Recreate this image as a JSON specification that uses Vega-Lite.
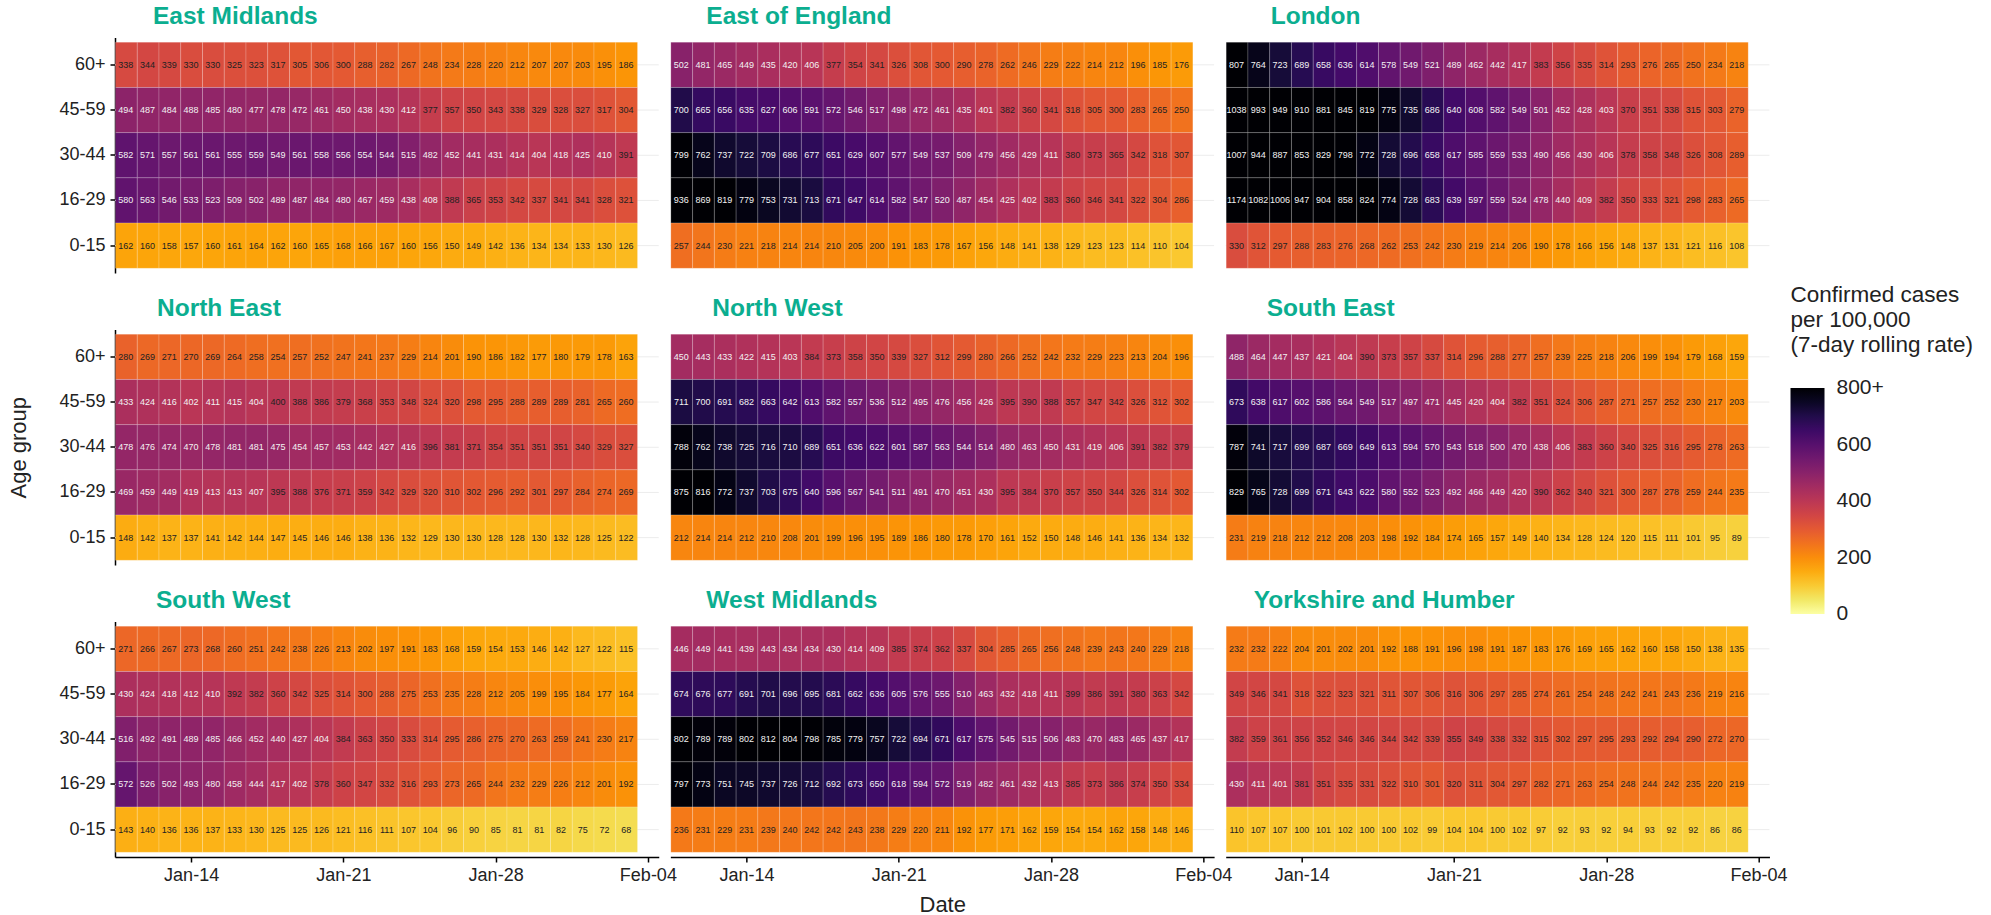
{"$schema":"https://vega.github.io/schema/vega-lite/v6.json","background":"white","autosize":{"type":"pad"},"padding":{"left":7,"top":3.5,"right":0,"bottom":0},"columns":3,"bounds":"flush","spacing":{"column":11.35,"row":56},"resolve":{"scale":{"color":"shared"}},"config":{"font":"Liberation Sans","view":{"stroke":null},"title":{"anchor":"start","frame":"group","fontSize":24.5,"fontWeight":"bold","color":"#0BAE90","offset":8},"axis":{"domainColor":"black","domainWidth":1.5,"tickColor":"black","tickWidth":1.5,"tickSize":5,"labelColor":"#222","labelFontSize":18,"titleFontSize":22,"titleFontWeight":"normal","titleColor":"#222","grid":false},"axisX":{"labelPadding":4,"titlePadding":10},"axisY":{"labelPadding":5,"titlePadding":28},"rect":{"stroke":"white","strokeWidth":0.6,"strokeOpacity":0.3},"text":{"fontSize":9},"rule":{"color":"#ececec"}},"datasets":{"ages":[{"age":"60+"},{"age":"45-59"},{"age":"30-44"},{"age":"16-29"},{"age":"0-15"}],
"East Midlands":[{"age":"60+","date":"2021-01-11","rate":338},{"age":"60+","date":"2021-01-12","rate":344},{"age":"60+","date":"2021-01-13","rate":339},{"age":"60+","date":"2021-01-14","rate":330},{"age":"60+","date":"2021-01-15","rate":330},{"age":"60+","date":"2021-01-16","rate":325},{"age":"60+","date":"2021-01-17","rate":323},{"age":"60+","date":"2021-01-18","rate":317},{"age":"60+","date":"2021-01-19","rate":305},{"age":"60+","date":"2021-01-20","rate":306},{"age":"60+","date":"2021-01-21","rate":300},{"age":"60+","date":"2021-01-22","rate":288},{"age":"60+","date":"2021-01-23","rate":282},{"age":"60+","date":"2021-01-24","rate":267},{"age":"60+","date":"2021-01-25","rate":248},{"age":"60+","date":"2021-01-26","rate":234},{"age":"60+","date":"2021-01-27","rate":228},{"age":"60+","date":"2021-01-28","rate":220},{"age":"60+","date":"2021-01-29","rate":212},{"age":"60+","date":"2021-01-30","rate":207},{"age":"60+","date":"2021-01-31","rate":207},{"age":"60+","date":"2021-02-01","rate":203},{"age":"60+","date":"2021-02-02","rate":195},{"age":"60+","date":"2021-02-03","rate":186},
{"age":"45-59","date":"2021-01-11","rate":494},{"age":"45-59","date":"2021-01-12","rate":487},{"age":"45-59","date":"2021-01-13","rate":484},{"age":"45-59","date":"2021-01-14","rate":488},{"age":"45-59","date":"2021-01-15","rate":485},{"age":"45-59","date":"2021-01-16","rate":480},{"age":"45-59","date":"2021-01-17","rate":477},{"age":"45-59","date":"2021-01-18","rate":478},{"age":"45-59","date":"2021-01-19","rate":472},{"age":"45-59","date":"2021-01-20","rate":461},{"age":"45-59","date":"2021-01-21","rate":450},{"age":"45-59","date":"2021-01-22","rate":438},{"age":"45-59","date":"2021-01-23","rate":430},{"age":"45-59","date":"2021-01-24","rate":412},{"age":"45-59","date":"2021-01-25","rate":377},{"age":"45-59","date":"2021-01-26","rate":357},{"age":"45-59","date":"2021-01-27","rate":350},{"age":"45-59","date":"2021-01-28","rate":343},{"age":"45-59","date":"2021-01-29","rate":338},{"age":"45-59","date":"2021-01-30","rate":329},{"age":"45-59","date":"2021-01-31","rate":328},{"age":"45-59","date":"2021-02-01","rate":327},{"age":"45-59","date":"2021-02-02","rate":317},{"age":"45-59","date":"2021-02-03","rate":304},
{"age":"30-44","date":"2021-01-11","rate":582},{"age":"30-44","date":"2021-01-12","rate":571},{"age":"30-44","date":"2021-01-13","rate":557},{"age":"30-44","date":"2021-01-14","rate":561},{"age":"30-44","date":"2021-01-15","rate":561},{"age":"30-44","date":"2021-01-16","rate":555},{"age":"30-44","date":"2021-01-17","rate":559},{"age":"30-44","date":"2021-01-18","rate":549},{"age":"30-44","date":"2021-01-19","rate":561},{"age":"30-44","date":"2021-01-20","rate":558},{"age":"30-44","date":"2021-01-21","rate":556},{"age":"30-44","date":"2021-01-22","rate":554},{"age":"30-44","date":"2021-01-23","rate":544},{"age":"30-44","date":"2021-01-24","rate":515},{"age":"30-44","date":"2021-01-25","rate":482},{"age":"30-44","date":"2021-01-26","rate":452},{"age":"30-44","date":"2021-01-27","rate":441},{"age":"30-44","date":"2021-01-28","rate":431},{"age":"30-44","date":"2021-01-29","rate":414},{"age":"30-44","date":"2021-01-30","rate":404},{"age":"30-44","date":"2021-01-31","rate":418},{"age":"30-44","date":"2021-02-01","rate":425},{"age":"30-44","date":"2021-02-02","rate":410},{"age":"30-44","date":"2021-02-03","rate":391},
{"age":"16-29","date":"2021-01-11","rate":580},{"age":"16-29","date":"2021-01-12","rate":563},{"age":"16-29","date":"2021-01-13","rate":546},{"age":"16-29","date":"2021-01-14","rate":533},{"age":"16-29","date":"2021-01-15","rate":523},{"age":"16-29","date":"2021-01-16","rate":509},{"age":"16-29","date":"2021-01-17","rate":502},{"age":"16-29","date":"2021-01-18","rate":489},{"age":"16-29","date":"2021-01-19","rate":487},{"age":"16-29","date":"2021-01-20","rate":484},{"age":"16-29","date":"2021-01-21","rate":480},{"age":"16-29","date":"2021-01-22","rate":467},{"age":"16-29","date":"2021-01-23","rate":459},{"age":"16-29","date":"2021-01-24","rate":438},{"age":"16-29","date":"2021-01-25","rate":408},{"age":"16-29","date":"2021-01-26","rate":388},{"age":"16-29","date":"2021-01-27","rate":365},{"age":"16-29","date":"2021-01-28","rate":353},{"age":"16-29","date":"2021-01-29","rate":342},{"age":"16-29","date":"2021-01-30","rate":337},{"age":"16-29","date":"2021-01-31","rate":341},{"age":"16-29","date":"2021-02-01","rate":341},{"age":"16-29","date":"2021-02-02","rate":328},{"age":"16-29","date":"2021-02-03","rate":321},
{"age":"0-15","date":"2021-01-11","rate":162},{"age":"0-15","date":"2021-01-12","rate":160},{"age":"0-15","date":"2021-01-13","rate":158},{"age":"0-15","date":"2021-01-14","rate":157},{"age":"0-15","date":"2021-01-15","rate":160},{"age":"0-15","date":"2021-01-16","rate":161},{"age":"0-15","date":"2021-01-17","rate":164},{"age":"0-15","date":"2021-01-18","rate":162},{"age":"0-15","date":"2021-01-19","rate":160},{"age":"0-15","date":"2021-01-20","rate":165},{"age":"0-15","date":"2021-01-21","rate":168},{"age":"0-15","date":"2021-01-22","rate":166},{"age":"0-15","date":"2021-01-23","rate":167},{"age":"0-15","date":"2021-01-24","rate":160},{"age":"0-15","date":"2021-01-25","rate":156},{"age":"0-15","date":"2021-01-26","rate":150},{"age":"0-15","date":"2021-01-27","rate":149},{"age":"0-15","date":"2021-01-28","rate":142},{"age":"0-15","date":"2021-01-29","rate":136},{"age":"0-15","date":"2021-01-30","rate":134},{"age":"0-15","date":"2021-01-31","rate":134},{"age":"0-15","date":"2021-02-01","rate":133},{"age":"0-15","date":"2021-02-02","rate":130},{"age":"0-15","date":"2021-02-03","rate":126}],
"East of England":[{"age":"60+","date":"2021-01-11","rate":502},{"age":"60+","date":"2021-01-12","rate":481},{"age":"60+","date":"2021-01-13","rate":465},{"age":"60+","date":"2021-01-14","rate":449},{"age":"60+","date":"2021-01-15","rate":435},{"age":"60+","date":"2021-01-16","rate":420},{"age":"60+","date":"2021-01-17","rate":406},{"age":"60+","date":"2021-01-18","rate":377},{"age":"60+","date":"2021-01-19","rate":354},{"age":"60+","date":"2021-01-20","rate":341},{"age":"60+","date":"2021-01-21","rate":326},{"age":"60+","date":"2021-01-22","rate":308},{"age":"60+","date":"2021-01-23","rate":300},{"age":"60+","date":"2021-01-24","rate":290},{"age":"60+","date":"2021-01-25","rate":278},{"age":"60+","date":"2021-01-26","rate":262},{"age":"60+","date":"2021-01-27","rate":246},{"age":"60+","date":"2021-01-28","rate":229},{"age":"60+","date":"2021-01-29","rate":222},{"age":"60+","date":"2021-01-30","rate":214},{"age":"60+","date":"2021-01-31","rate":212},{"age":"60+","date":"2021-02-01","rate":196},{"age":"60+","date":"2021-02-02","rate":185},{"age":"60+","date":"2021-02-03","rate":176},
{"age":"45-59","date":"2021-01-11","rate":700},{"age":"45-59","date":"2021-01-12","rate":665},{"age":"45-59","date":"2021-01-13","rate":656},{"age":"45-59","date":"2021-01-14","rate":635},{"age":"45-59","date":"2021-01-15","rate":627},{"age":"45-59","date":"2021-01-16","rate":606},{"age":"45-59","date":"2021-01-17","rate":591},{"age":"45-59","date":"2021-01-18","rate":572},{"age":"45-59","date":"2021-01-19","rate":546},{"age":"45-59","date":"2021-01-20","rate":517},{"age":"45-59","date":"2021-01-21","rate":498},{"age":"45-59","date":"2021-01-22","rate":472},{"age":"45-59","date":"2021-01-23","rate":461},{"age":"45-59","date":"2021-01-24","rate":435},{"age":"45-59","date":"2021-01-25","rate":401},{"age":"45-59","date":"2021-01-26","rate":382},{"age":"45-59","date":"2021-01-27","rate":360},{"age":"45-59","date":"2021-01-28","rate":341},{"age":"45-59","date":"2021-01-29","rate":318},{"age":"45-59","date":"2021-01-30","rate":305},{"age":"45-59","date":"2021-01-31","rate":300},{"age":"45-59","date":"2021-02-01","rate":283},{"age":"45-59","date":"2021-02-02","rate":265},{"age":"45-59","date":"2021-02-03","rate":250},
{"age":"30-44","date":"2021-01-11","rate":799},{"age":"30-44","date":"2021-01-12","rate":762},{"age":"30-44","date":"2021-01-13","rate":737},{"age":"30-44","date":"2021-01-14","rate":722},{"age":"30-44","date":"2021-01-15","rate":709},{"age":"30-44","date":"2021-01-16","rate":686},{"age":"30-44","date":"2021-01-17","rate":677},{"age":"30-44","date":"2021-01-18","rate":651},{"age":"30-44","date":"2021-01-19","rate":629},{"age":"30-44","date":"2021-01-20","rate":607},{"age":"30-44","date":"2021-01-21","rate":577},{"age":"30-44","date":"2021-01-22","rate":549},{"age":"30-44","date":"2021-01-23","rate":537},{"age":"30-44","date":"2021-01-24","rate":509},{"age":"30-44","date":"2021-01-25","rate":479},{"age":"30-44","date":"2021-01-26","rate":456},{"age":"30-44","date":"2021-01-27","rate":429},{"age":"30-44","date":"2021-01-28","rate":411},{"age":"30-44","date":"2021-01-29","rate":380},{"age":"30-44","date":"2021-01-30","rate":373},{"age":"30-44","date":"2021-01-31","rate":365},{"age":"30-44","date":"2021-02-01","rate":342},{"age":"30-44","date":"2021-02-02","rate":318},{"age":"30-44","date":"2021-02-03","rate":307},
{"age":"16-29","date":"2021-01-11","rate":936},{"age":"16-29","date":"2021-01-12","rate":869},{"age":"16-29","date":"2021-01-13","rate":819},{"age":"16-29","date":"2021-01-14","rate":779},{"age":"16-29","date":"2021-01-15","rate":753},{"age":"16-29","date":"2021-01-16","rate":731},{"age":"16-29","date":"2021-01-17","rate":713},{"age":"16-29","date":"2021-01-18","rate":671},{"age":"16-29","date":"2021-01-19","rate":647},{"age":"16-29","date":"2021-01-20","rate":614},{"age":"16-29","date":"2021-01-21","rate":582},{"age":"16-29","date":"2021-01-22","rate":547},{"age":"16-29","date":"2021-01-23","rate":520},{"age":"16-29","date":"2021-01-24","rate":487},{"age":"16-29","date":"2021-01-25","rate":454},{"age":"16-29","date":"2021-01-26","rate":425},{"age":"16-29","date":"2021-01-27","rate":402},{"age":"16-29","date":"2021-01-28","rate":383},{"age":"16-29","date":"2021-01-29","rate":360},{"age":"16-29","date":"2021-01-30","rate":346},{"age":"16-29","date":"2021-01-31","rate":341},{"age":"16-29","date":"2021-02-01","rate":322},{"age":"16-29","date":"2021-02-02","rate":304},{"age":"16-29","date":"2021-02-03","rate":286},
{"age":"0-15","date":"2021-01-11","rate":257},{"age":"0-15","date":"2021-01-12","rate":244},{"age":"0-15","date":"2021-01-13","rate":230},{"age":"0-15","date":"2021-01-14","rate":221},{"age":"0-15","date":"2021-01-15","rate":218},{"age":"0-15","date":"2021-01-16","rate":214},{"age":"0-15","date":"2021-01-17","rate":214},{"age":"0-15","date":"2021-01-18","rate":210},{"age":"0-15","date":"2021-01-19","rate":205},{"age":"0-15","date":"2021-01-20","rate":200},{"age":"0-15","date":"2021-01-21","rate":191},{"age":"0-15","date":"2021-01-22","rate":183},{"age":"0-15","date":"2021-01-23","rate":178},{"age":"0-15","date":"2021-01-24","rate":167},{"age":"0-15","date":"2021-01-25","rate":156},{"age":"0-15","date":"2021-01-26","rate":148},{"age":"0-15","date":"2021-01-27","rate":141},{"age":"0-15","date":"2021-01-28","rate":138},{"age":"0-15","date":"2021-01-29","rate":129},{"age":"0-15","date":"2021-01-30","rate":123},{"age":"0-15","date":"2021-01-31","rate":123},{"age":"0-15","date":"2021-02-01","rate":114},{"age":"0-15","date":"2021-02-02","rate":110},{"age":"0-15","date":"2021-02-03","rate":104}],
"London":[{"age":"60+","date":"2021-01-11","rate":807},{"age":"60+","date":"2021-01-12","rate":764},{"age":"60+","date":"2021-01-13","rate":723},{"age":"60+","date":"2021-01-14","rate":689},{"age":"60+","date":"2021-01-15","rate":658},{"age":"60+","date":"2021-01-16","rate":636},{"age":"60+","date":"2021-01-17","rate":614},{"age":"60+","date":"2021-01-18","rate":578},{"age":"60+","date":"2021-01-19","rate":549},{"age":"60+","date":"2021-01-20","rate":521},{"age":"60+","date":"2021-01-21","rate":489},{"age":"60+","date":"2021-01-22","rate":462},{"age":"60+","date":"2021-01-23","rate":442},{"age":"60+","date":"2021-01-24","rate":417},{"age":"60+","date":"2021-01-25","rate":383},{"age":"60+","date":"2021-01-26","rate":356},{"age":"60+","date":"2021-01-27","rate":335},{"age":"60+","date":"2021-01-28","rate":314},{"age":"60+","date":"2021-01-29","rate":293},{"age":"60+","date":"2021-01-30","rate":276},{"age":"60+","date":"2021-01-31","rate":265},{"age":"60+","date":"2021-02-01","rate":250},{"age":"60+","date":"2021-02-02","rate":234},{"age":"60+","date":"2021-02-03","rate":218},
{"age":"45-59","date":"2021-01-11","rate":1038},{"age":"45-59","date":"2021-01-12","rate":993},{"age":"45-59","date":"2021-01-13","rate":949},{"age":"45-59","date":"2021-01-14","rate":910},{"age":"45-59","date":"2021-01-15","rate":881},{"age":"45-59","date":"2021-01-16","rate":845},{"age":"45-59","date":"2021-01-17","rate":819},{"age":"45-59","date":"2021-01-18","rate":775},{"age":"45-59","date":"2021-01-19","rate":735},{"age":"45-59","date":"2021-01-20","rate":686},{"age":"45-59","date":"2021-01-21","rate":640},{"age":"45-59","date":"2021-01-22","rate":608},{"age":"45-59","date":"2021-01-23","rate":582},{"age":"45-59","date":"2021-01-24","rate":549},{"age":"45-59","date":"2021-01-25","rate":501},{"age":"45-59","date":"2021-01-26","rate":452},{"age":"45-59","date":"2021-01-27","rate":428},{"age":"45-59","date":"2021-01-28","rate":403},{"age":"45-59","date":"2021-01-29","rate":370},{"age":"45-59","date":"2021-01-30","rate":351},{"age":"45-59","date":"2021-01-31","rate":338},{"age":"45-59","date":"2021-02-01","rate":315},{"age":"45-59","date":"2021-02-02","rate":303},{"age":"45-59","date":"2021-02-03","rate":279},
{"age":"30-44","date":"2021-01-11","rate":1007},{"age":"30-44","date":"2021-01-12","rate":944},{"age":"30-44","date":"2021-01-13","rate":887},{"age":"30-44","date":"2021-01-14","rate":853},{"age":"30-44","date":"2021-01-15","rate":829},{"age":"30-44","date":"2021-01-16","rate":798},{"age":"30-44","date":"2021-01-17","rate":772},{"age":"30-44","date":"2021-01-18","rate":728},{"age":"30-44","date":"2021-01-19","rate":696},{"age":"30-44","date":"2021-01-20","rate":658},{"age":"30-44","date":"2021-01-21","rate":617},{"age":"30-44","date":"2021-01-22","rate":585},{"age":"30-44","date":"2021-01-23","rate":559},{"age":"30-44","date":"2021-01-24","rate":533},{"age":"30-44","date":"2021-01-25","rate":490},{"age":"30-44","date":"2021-01-26","rate":456},{"age":"30-44","date":"2021-01-27","rate":430},{"age":"30-44","date":"2021-01-28","rate":406},{"age":"30-44","date":"2021-01-29","rate":378},{"age":"30-44","date":"2021-01-30","rate":358},{"age":"30-44","date":"2021-01-31","rate":348},{"age":"30-44","date":"2021-02-01","rate":326},{"age":"30-44","date":"2021-02-02","rate":308},{"age":"30-44","date":"2021-02-03","rate":289},
{"age":"16-29","date":"2021-01-11","rate":1174},{"age":"16-29","date":"2021-01-12","rate":1082},{"age":"16-29","date":"2021-01-13","rate":1006},{"age":"16-29","date":"2021-01-14","rate":947},{"age":"16-29","date":"2021-01-15","rate":904},{"age":"16-29","date":"2021-01-16","rate":858},{"age":"16-29","date":"2021-01-17","rate":824},{"age":"16-29","date":"2021-01-18","rate":774},{"age":"16-29","date":"2021-01-19","rate":728},{"age":"16-29","date":"2021-01-20","rate":683},{"age":"16-29","date":"2021-01-21","rate":639},{"age":"16-29","date":"2021-01-22","rate":597},{"age":"16-29","date":"2021-01-23","rate":559},{"age":"16-29","date":"2021-01-24","rate":524},{"age":"16-29","date":"2021-01-25","rate":478},{"age":"16-29","date":"2021-01-26","rate":440},{"age":"16-29","date":"2021-01-27","rate":409},{"age":"16-29","date":"2021-01-28","rate":382},{"age":"16-29","date":"2021-01-29","rate":350},{"age":"16-29","date":"2021-01-30","rate":333},{"age":"16-29","date":"2021-01-31","rate":321},{"age":"16-29","date":"2021-02-01","rate":298},{"age":"16-29","date":"2021-02-02","rate":283},{"age":"16-29","date":"2021-02-03","rate":265},
{"age":"0-15","date":"2021-01-11","rate":330},{"age":"0-15","date":"2021-01-12","rate":312},{"age":"0-15","date":"2021-01-13","rate":297},{"age":"0-15","date":"2021-01-14","rate":288},{"age":"0-15","date":"2021-01-15","rate":283},{"age":"0-15","date":"2021-01-16","rate":276},{"age":"0-15","date":"2021-01-17","rate":268},{"age":"0-15","date":"2021-01-18","rate":262},{"age":"0-15","date":"2021-01-19","rate":253},{"age":"0-15","date":"2021-01-20","rate":242},{"age":"0-15","date":"2021-01-21","rate":230},{"age":"0-15","date":"2021-01-22","rate":219},{"age":"0-15","date":"2021-01-23","rate":214},{"age":"0-15","date":"2021-01-24","rate":206},{"age":"0-15","date":"2021-01-25","rate":190},{"age":"0-15","date":"2021-01-26","rate":178},{"age":"0-15","date":"2021-01-27","rate":166},{"age":"0-15","date":"2021-01-28","rate":156},{"age":"0-15","date":"2021-01-29","rate":148},{"age":"0-15","date":"2021-01-30","rate":137},{"age":"0-15","date":"2021-01-31","rate":131},{"age":"0-15","date":"2021-02-01","rate":121},{"age":"0-15","date":"2021-02-02","rate":116},{"age":"0-15","date":"2021-02-03","rate":108}],
"North East":[{"age":"60+","date":"2021-01-11","rate":280},{"age":"60+","date":"2021-01-12","rate":269},{"age":"60+","date":"2021-01-13","rate":271},{"age":"60+","date":"2021-01-14","rate":270},{"age":"60+","date":"2021-01-15","rate":269},{"age":"60+","date":"2021-01-16","rate":264},{"age":"60+","date":"2021-01-17","rate":258},{"age":"60+","date":"2021-01-18","rate":254},{"age":"60+","date":"2021-01-19","rate":257},{"age":"60+","date":"2021-01-20","rate":252},{"age":"60+","date":"2021-01-21","rate":247},{"age":"60+","date":"2021-01-22","rate":241},{"age":"60+","date":"2021-01-23","rate":237},{"age":"60+","date":"2021-01-24","rate":229},{"age":"60+","date":"2021-01-25","rate":214},{"age":"60+","date":"2021-01-26","rate":201},{"age":"60+","date":"2021-01-27","rate":190},{"age":"60+","date":"2021-01-28","rate":186},{"age":"60+","date":"2021-01-29","rate":182},{"age":"60+","date":"2021-01-30","rate":177},{"age":"60+","date":"2021-01-31","rate":180},{"age":"60+","date":"2021-02-01","rate":179},{"age":"60+","date":"2021-02-02","rate":178},{"age":"60+","date":"2021-02-03","rate":163},
{"age":"45-59","date":"2021-01-11","rate":433},{"age":"45-59","date":"2021-01-12","rate":424},{"age":"45-59","date":"2021-01-13","rate":416},{"age":"45-59","date":"2021-01-14","rate":402},{"age":"45-59","date":"2021-01-15","rate":411},{"age":"45-59","date":"2021-01-16","rate":415},{"age":"45-59","date":"2021-01-17","rate":404},{"age":"45-59","date":"2021-01-18","rate":400},{"age":"45-59","date":"2021-01-19","rate":388},{"age":"45-59","date":"2021-01-20","rate":386},{"age":"45-59","date":"2021-01-21","rate":379},{"age":"45-59","date":"2021-01-22","rate":368},{"age":"45-59","date":"2021-01-23","rate":353},{"age":"45-59","date":"2021-01-24","rate":348},{"age":"45-59","date":"2021-01-25","rate":324},{"age":"45-59","date":"2021-01-26","rate":320},{"age":"45-59","date":"2021-01-27","rate":298},{"age":"45-59","date":"2021-01-28","rate":295},{"age":"45-59","date":"2021-01-29","rate":288},{"age":"45-59","date":"2021-01-30","rate":289},{"age":"45-59","date":"2021-01-31","rate":289},{"age":"45-59","date":"2021-02-01","rate":281},{"age":"45-59","date":"2021-02-02","rate":265},{"age":"45-59","date":"2021-02-03","rate":260},
{"age":"30-44","date":"2021-01-11","rate":478},{"age":"30-44","date":"2021-01-12","rate":476},{"age":"30-44","date":"2021-01-13","rate":474},{"age":"30-44","date":"2021-01-14","rate":470},{"age":"30-44","date":"2021-01-15","rate":478},{"age":"30-44","date":"2021-01-16","rate":481},{"age":"30-44","date":"2021-01-17","rate":481},{"age":"30-44","date":"2021-01-18","rate":475},{"age":"30-44","date":"2021-01-19","rate":454},{"age":"30-44","date":"2021-01-20","rate":457},{"age":"30-44","date":"2021-01-21","rate":453},{"age":"30-44","date":"2021-01-22","rate":442},{"age":"30-44","date":"2021-01-23","rate":427},{"age":"30-44","date":"2021-01-24","rate":416},{"age":"30-44","date":"2021-01-25","rate":396},{"age":"30-44","date":"2021-01-26","rate":381},{"age":"30-44","date":"2021-01-27","rate":371},{"age":"30-44","date":"2021-01-28","rate":354},{"age":"30-44","date":"2021-01-29","rate":351},{"age":"30-44","date":"2021-01-30","rate":351},{"age":"30-44","date":"2021-01-31","rate":351},{"age":"30-44","date":"2021-02-01","rate":340},{"age":"30-44","date":"2021-02-02","rate":329},{"age":"30-44","date":"2021-02-03","rate":327},
{"age":"16-29","date":"2021-01-11","rate":469},{"age":"16-29","date":"2021-01-12","rate":459},{"age":"16-29","date":"2021-01-13","rate":449},{"age":"16-29","date":"2021-01-14","rate":419},{"age":"16-29","date":"2021-01-15","rate":413},{"age":"16-29","date":"2021-01-16","rate":413},{"age":"16-29","date":"2021-01-17","rate":407},{"age":"16-29","date":"2021-01-18","rate":395},{"age":"16-29","date":"2021-01-19","rate":388},{"age":"16-29","date":"2021-01-20","rate":376},{"age":"16-29","date":"2021-01-21","rate":371},{"age":"16-29","date":"2021-01-22","rate":359},{"age":"16-29","date":"2021-01-23","rate":342},{"age":"16-29","date":"2021-01-24","rate":329},{"age":"16-29","date":"2021-01-25","rate":320},{"age":"16-29","date":"2021-01-26","rate":310},{"age":"16-29","date":"2021-01-27","rate":302},{"age":"16-29","date":"2021-01-28","rate":296},{"age":"16-29","date":"2021-01-29","rate":292},{"age":"16-29","date":"2021-01-30","rate":301},{"age":"16-29","date":"2021-01-31","rate":297},{"age":"16-29","date":"2021-02-01","rate":284},{"age":"16-29","date":"2021-02-02","rate":274},{"age":"16-29","date":"2021-02-03","rate":269},
{"age":"0-15","date":"2021-01-11","rate":148},{"age":"0-15","date":"2021-01-12","rate":142},{"age":"0-15","date":"2021-01-13","rate":137},{"age":"0-15","date":"2021-01-14","rate":137},{"age":"0-15","date":"2021-01-15","rate":141},{"age":"0-15","date":"2021-01-16","rate":142},{"age":"0-15","date":"2021-01-17","rate":144},{"age":"0-15","date":"2021-01-18","rate":147},{"age":"0-15","date":"2021-01-19","rate":145},{"age":"0-15","date":"2021-01-20","rate":146},{"age":"0-15","date":"2021-01-21","rate":146},{"age":"0-15","date":"2021-01-22","rate":138},{"age":"0-15","date":"2021-01-23","rate":136},{"age":"0-15","date":"2021-01-24","rate":132},{"age":"0-15","date":"2021-01-25","rate":129},{"age":"0-15","date":"2021-01-26","rate":130},{"age":"0-15","date":"2021-01-27","rate":130},{"age":"0-15","date":"2021-01-28","rate":128},{"age":"0-15","date":"2021-01-29","rate":128},{"age":"0-15","date":"2021-01-30","rate":130},{"age":"0-15","date":"2021-01-31","rate":132},{"age":"0-15","date":"2021-02-01","rate":128},{"age":"0-15","date":"2021-02-02","rate":125},{"age":"0-15","date":"2021-02-03","rate":122}],
"North West":[{"age":"60+","date":"2021-01-11","rate":450},{"age":"60+","date":"2021-01-12","rate":443},{"age":"60+","date":"2021-01-13","rate":433},{"age":"60+","date":"2021-01-14","rate":422},{"age":"60+","date":"2021-01-15","rate":415},{"age":"60+","date":"2021-01-16","rate":403},{"age":"60+","date":"2021-01-17","rate":384},{"age":"60+","date":"2021-01-18","rate":373},{"age":"60+","date":"2021-01-19","rate":358},{"age":"60+","date":"2021-01-20","rate":350},{"age":"60+","date":"2021-01-21","rate":339},{"age":"60+","date":"2021-01-22","rate":327},{"age":"60+","date":"2021-01-23","rate":312},{"age":"60+","date":"2021-01-24","rate":299},{"age":"60+","date":"2021-01-25","rate":280},{"age":"60+","date":"2021-01-26","rate":266},{"age":"60+","date":"2021-01-27","rate":252},{"age":"60+","date":"2021-01-28","rate":242},{"age":"60+","date":"2021-01-29","rate":232},{"age":"60+","date":"2021-01-30","rate":229},{"age":"60+","date":"2021-01-31","rate":223},{"age":"60+","date":"2021-02-01","rate":213},{"age":"60+","date":"2021-02-02","rate":204},{"age":"60+","date":"2021-02-03","rate":196},
{"age":"45-59","date":"2021-01-11","rate":711},{"age":"45-59","date":"2021-01-12","rate":700},{"age":"45-59","date":"2021-01-13","rate":691},{"age":"45-59","date":"2021-01-14","rate":682},{"age":"45-59","date":"2021-01-15","rate":663},{"age":"45-59","date":"2021-01-16","rate":642},{"age":"45-59","date":"2021-01-17","rate":613},{"age":"45-59","date":"2021-01-18","rate":582},{"age":"45-59","date":"2021-01-19","rate":557},{"age":"45-59","date":"2021-01-20","rate":536},{"age":"45-59","date":"2021-01-21","rate":512},{"age":"45-59","date":"2021-01-22","rate":495},{"age":"45-59","date":"2021-01-23","rate":476},{"age":"45-59","date":"2021-01-24","rate":456},{"age":"45-59","date":"2021-01-25","rate":426},{"age":"45-59","date":"2021-01-26","rate":395},{"age":"45-59","date":"2021-01-27","rate":390},{"age":"45-59","date":"2021-01-28","rate":388},{"age":"45-59","date":"2021-01-29","rate":357},{"age":"45-59","date":"2021-01-30","rate":347},{"age":"45-59","date":"2021-01-31","rate":342},{"age":"45-59","date":"2021-02-01","rate":326},{"age":"45-59","date":"2021-02-02","rate":312},{"age":"45-59","date":"2021-02-03","rate":302},
{"age":"30-44","date":"2021-01-11","rate":788},{"age":"30-44","date":"2021-01-12","rate":762},{"age":"30-44","date":"2021-01-13","rate":738},{"age":"30-44","date":"2021-01-14","rate":725},{"age":"30-44","date":"2021-01-15","rate":716},{"age":"30-44","date":"2021-01-16","rate":710},{"age":"30-44","date":"2021-01-17","rate":689},{"age":"30-44","date":"2021-01-18","rate":651},{"age":"30-44","date":"2021-01-19","rate":636},{"age":"30-44","date":"2021-01-20","rate":622},{"age":"30-44","date":"2021-01-21","rate":601},{"age":"30-44","date":"2021-01-22","rate":587},{"age":"30-44","date":"2021-01-23","rate":563},{"age":"30-44","date":"2021-01-24","rate":544},{"age":"30-44","date":"2021-01-25","rate":514},{"age":"30-44","date":"2021-01-26","rate":480},{"age":"30-44","date":"2021-01-27","rate":463},{"age":"30-44","date":"2021-01-28","rate":450},{"age":"30-44","date":"2021-01-29","rate":431},{"age":"30-44","date":"2021-01-30","rate":419},{"age":"30-44","date":"2021-01-31","rate":406},{"age":"30-44","date":"2021-02-01","rate":391},{"age":"30-44","date":"2021-02-02","rate":382},{"age":"30-44","date":"2021-02-03","rate":379},
{"age":"16-29","date":"2021-01-11","rate":875},{"age":"16-29","date":"2021-01-12","rate":816},{"age":"16-29","date":"2021-01-13","rate":772},{"age":"16-29","date":"2021-01-14","rate":737},{"age":"16-29","date":"2021-01-15","rate":703},{"age":"16-29","date":"2021-01-16","rate":675},{"age":"16-29","date":"2021-01-17","rate":640},{"age":"16-29","date":"2021-01-18","rate":596},{"age":"16-29","date":"2021-01-19","rate":567},{"age":"16-29","date":"2021-01-20","rate":541},{"age":"16-29","date":"2021-01-21","rate":511},{"age":"16-29","date":"2021-01-22","rate":491},{"age":"16-29","date":"2021-01-23","rate":470},{"age":"16-29","date":"2021-01-24","rate":451},{"age":"16-29","date":"2021-01-25","rate":430},{"age":"16-29","date":"2021-01-26","rate":395},{"age":"16-29","date":"2021-01-27","rate":384},{"age":"16-29","date":"2021-01-28","rate":370},{"age":"16-29","date":"2021-01-29","rate":357},{"age":"16-29","date":"2021-01-30","rate":350},{"age":"16-29","date":"2021-01-31","rate":344},{"age":"16-29","date":"2021-02-01","rate":326},{"age":"16-29","date":"2021-02-02","rate":314},{"age":"16-29","date":"2021-02-03","rate":302},
{"age":"0-15","date":"2021-01-11","rate":212},{"age":"0-15","date":"2021-01-12","rate":214},{"age":"0-15","date":"2021-01-13","rate":214},{"age":"0-15","date":"2021-01-14","rate":212},{"age":"0-15","date":"2021-01-15","rate":210},{"age":"0-15","date":"2021-01-16","rate":208},{"age":"0-15","date":"2021-01-17","rate":201},{"age":"0-15","date":"2021-01-18","rate":199},{"age":"0-15","date":"2021-01-19","rate":196},{"age":"0-15","date":"2021-01-20","rate":195},{"age":"0-15","date":"2021-01-21","rate":189},{"age":"0-15","date":"2021-01-22","rate":186},{"age":"0-15","date":"2021-01-23","rate":180},{"age":"0-15","date":"2021-01-24","rate":178},{"age":"0-15","date":"2021-01-25","rate":170},{"age":"0-15","date":"2021-01-26","rate":161},{"age":"0-15","date":"2021-01-27","rate":152},{"age":"0-15","date":"2021-01-28","rate":150},{"age":"0-15","date":"2021-01-29","rate":148},{"age":"0-15","date":"2021-01-30","rate":146},{"age":"0-15","date":"2021-01-31","rate":141},{"age":"0-15","date":"2021-02-01","rate":136},{"age":"0-15","date":"2021-02-02","rate":134},{"age":"0-15","date":"2021-02-03","rate":132}],
"South East":[{"age":"60+","date":"2021-01-11","rate":488},{"age":"60+","date":"2021-01-12","rate":464},{"age":"60+","date":"2021-01-13","rate":447},{"age":"60+","date":"2021-01-14","rate":437},{"age":"60+","date":"2021-01-15","rate":421},{"age":"60+","date":"2021-01-16","rate":404},{"age":"60+","date":"2021-01-17","rate":390},{"age":"60+","date":"2021-01-18","rate":373},{"age":"60+","date":"2021-01-19","rate":357},{"age":"60+","date":"2021-01-20","rate":337},{"age":"60+","date":"2021-01-21","rate":314},{"age":"60+","date":"2021-01-22","rate":296},{"age":"60+","date":"2021-01-23","rate":288},{"age":"60+","date":"2021-01-24","rate":277},{"age":"60+","date":"2021-01-25","rate":257},{"age":"60+","date":"2021-01-26","rate":239},{"age":"60+","date":"2021-01-27","rate":225},{"age":"60+","date":"2021-01-28","rate":218},{"age":"60+","date":"2021-01-29","rate":206},{"age":"60+","date":"2021-01-30","rate":199},{"age":"60+","date":"2021-01-31","rate":194},{"age":"60+","date":"2021-02-01","rate":179},{"age":"60+","date":"2021-02-02","rate":168},{"age":"60+","date":"2021-02-03","rate":159},
{"age":"45-59","date":"2021-01-11","rate":673},{"age":"45-59","date":"2021-01-12","rate":638},{"age":"45-59","date":"2021-01-13","rate":617},{"age":"45-59","date":"2021-01-14","rate":602},{"age":"45-59","date":"2021-01-15","rate":586},{"age":"45-59","date":"2021-01-16","rate":564},{"age":"45-59","date":"2021-01-17","rate":549},{"age":"45-59","date":"2021-01-18","rate":517},{"age":"45-59","date":"2021-01-19","rate":497},{"age":"45-59","date":"2021-01-20","rate":471},{"age":"45-59","date":"2021-01-21","rate":445},{"age":"45-59","date":"2021-01-22","rate":420},{"age":"45-59","date":"2021-01-23","rate":404},{"age":"45-59","date":"2021-01-24","rate":382},{"age":"45-59","date":"2021-01-25","rate":351},{"age":"45-59","date":"2021-01-26","rate":324},{"age":"45-59","date":"2021-01-27","rate":306},{"age":"45-59","date":"2021-01-28","rate":287},{"age":"45-59","date":"2021-01-29","rate":271},{"age":"45-59","date":"2021-01-30","rate":257},{"age":"45-59","date":"2021-01-31","rate":252},{"age":"45-59","date":"2021-02-01","rate":230},{"age":"45-59","date":"2021-02-02","rate":217},{"age":"45-59","date":"2021-02-03","rate":203},
{"age":"30-44","date":"2021-01-11","rate":787},{"age":"30-44","date":"2021-01-12","rate":741},{"age":"30-44","date":"2021-01-13","rate":717},{"age":"30-44","date":"2021-01-14","rate":699},{"age":"30-44","date":"2021-01-15","rate":687},{"age":"30-44","date":"2021-01-16","rate":669},{"age":"30-44","date":"2021-01-17","rate":649},{"age":"30-44","date":"2021-01-18","rate":613},{"age":"30-44","date":"2021-01-19","rate":594},{"age":"30-44","date":"2021-01-20","rate":570},{"age":"30-44","date":"2021-01-21","rate":543},{"age":"30-44","date":"2021-01-22","rate":518},{"age":"30-44","date":"2021-01-23","rate":500},{"age":"30-44","date":"2021-01-24","rate":470},{"age":"30-44","date":"2021-01-25","rate":438},{"age":"30-44","date":"2021-01-26","rate":406},{"age":"30-44","date":"2021-01-27","rate":383},{"age":"30-44","date":"2021-01-28","rate":360},{"age":"30-44","date":"2021-01-29","rate":340},{"age":"30-44","date":"2021-01-30","rate":325},{"age":"30-44","date":"2021-01-31","rate":316},{"age":"30-44","date":"2021-02-01","rate":295},{"age":"30-44","date":"2021-02-02","rate":278},{"age":"30-44","date":"2021-02-03","rate":263},
{"age":"16-29","date":"2021-01-11","rate":829},{"age":"16-29","date":"2021-01-12","rate":765},{"age":"16-29","date":"2021-01-13","rate":728},{"age":"16-29","date":"2021-01-14","rate":699},{"age":"16-29","date":"2021-01-15","rate":671},{"age":"16-29","date":"2021-01-16","rate":643},{"age":"16-29","date":"2021-01-17","rate":622},{"age":"16-29","date":"2021-01-18","rate":580},{"age":"16-29","date":"2021-01-19","rate":552},{"age":"16-29","date":"2021-01-20","rate":523},{"age":"16-29","date":"2021-01-21","rate":492},{"age":"16-29","date":"2021-01-22","rate":466},{"age":"16-29","date":"2021-01-23","rate":449},{"age":"16-29","date":"2021-01-24","rate":420},{"age":"16-29","date":"2021-01-25","rate":390},{"age":"16-29","date":"2021-01-26","rate":362},{"age":"16-29","date":"2021-01-27","rate":340},{"age":"16-29","date":"2021-01-28","rate":321},{"age":"16-29","date":"2021-01-29","rate":300},{"age":"16-29","date":"2021-01-30","rate":287},{"age":"16-29","date":"2021-01-31","rate":278},{"age":"16-29","date":"2021-02-01","rate":259},{"age":"16-29","date":"2021-02-02","rate":244},{"age":"16-29","date":"2021-02-03","rate":235},
{"age":"0-15","date":"2021-01-11","rate":231},{"age":"0-15","date":"2021-01-12","rate":219},{"age":"0-15","date":"2021-01-13","rate":218},{"age":"0-15","date":"2021-01-14","rate":212},{"age":"0-15","date":"2021-01-15","rate":212},{"age":"0-15","date":"2021-01-16","rate":208},{"age":"0-15","date":"2021-01-17","rate":203},{"age":"0-15","date":"2021-01-18","rate":198},{"age":"0-15","date":"2021-01-19","rate":192},{"age":"0-15","date":"2021-01-20","rate":184},{"age":"0-15","date":"2021-01-21","rate":174},{"age":"0-15","date":"2021-01-22","rate":165},{"age":"0-15","date":"2021-01-23","rate":157},{"age":"0-15","date":"2021-01-24","rate":149},{"age":"0-15","date":"2021-01-25","rate":140},{"age":"0-15","date":"2021-01-26","rate":134},{"age":"0-15","date":"2021-01-27","rate":128},{"age":"0-15","date":"2021-01-28","rate":124},{"age":"0-15","date":"2021-01-29","rate":120},{"age":"0-15","date":"2021-01-30","rate":115},{"age":"0-15","date":"2021-01-31","rate":111},{"age":"0-15","date":"2021-02-01","rate":101},{"age":"0-15","date":"2021-02-02","rate":95},{"age":"0-15","date":"2021-02-03","rate":89}],
"South West":[{"age":"60+","date":"2021-01-11","rate":271},{"age":"60+","date":"2021-01-12","rate":266},{"age":"60+","date":"2021-01-13","rate":267},{"age":"60+","date":"2021-01-14","rate":273},{"age":"60+","date":"2021-01-15","rate":268},{"age":"60+","date":"2021-01-16","rate":260},{"age":"60+","date":"2021-01-17","rate":251},{"age":"60+","date":"2021-01-18","rate":242},{"age":"60+","date":"2021-01-19","rate":238},{"age":"60+","date":"2021-01-20","rate":226},{"age":"60+","date":"2021-01-21","rate":213},{"age":"60+","date":"2021-01-22","rate":202},{"age":"60+","date":"2021-01-23","rate":197},{"age":"60+","date":"2021-01-24","rate":191},{"age":"60+","date":"2021-01-25","rate":183},{"age":"60+","date":"2021-01-26","rate":168},{"age":"60+","date":"2021-01-27","rate":159},{"age":"60+","date":"2021-01-28","rate":154},{"age":"60+","date":"2021-01-29","rate":153},{"age":"60+","date":"2021-01-30","rate":146},{"age":"60+","date":"2021-01-31","rate":142},{"age":"60+","date":"2021-02-01","rate":127},{"age":"60+","date":"2021-02-02","rate":122},{"age":"60+","date":"2021-02-03","rate":115},
{"age":"45-59","date":"2021-01-11","rate":430},{"age":"45-59","date":"2021-01-12","rate":424},{"age":"45-59","date":"2021-01-13","rate":418},{"age":"45-59","date":"2021-01-14","rate":412},{"age":"45-59","date":"2021-01-15","rate":410},{"age":"45-59","date":"2021-01-16","rate":392},{"age":"45-59","date":"2021-01-17","rate":382},{"age":"45-59","date":"2021-01-18","rate":360},{"age":"45-59","date":"2021-01-19","rate":342},{"age":"45-59","date":"2021-01-20","rate":325},{"age":"45-59","date":"2021-01-21","rate":314},{"age":"45-59","date":"2021-01-22","rate":300},{"age":"45-59","date":"2021-01-23","rate":288},{"age":"45-59","date":"2021-01-24","rate":275},{"age":"45-59","date":"2021-01-25","rate":253},{"age":"45-59","date":"2021-01-26","rate":235},{"age":"45-59","date":"2021-01-27","rate":228},{"age":"45-59","date":"2021-01-28","rate":212},{"age":"45-59","date":"2021-01-29","rate":205},{"age":"45-59","date":"2021-01-30","rate":199},{"age":"45-59","date":"2021-01-31","rate":195},{"age":"45-59","date":"2021-02-01","rate":184},{"age":"45-59","date":"2021-02-02","rate":177},{"age":"45-59","date":"2021-02-03","rate":164},
{"age":"30-44","date":"2021-01-11","rate":516},{"age":"30-44","date":"2021-01-12","rate":492},{"age":"30-44","date":"2021-01-13","rate":491},{"age":"30-44","date":"2021-01-14","rate":489},{"age":"30-44","date":"2021-01-15","rate":485},{"age":"30-44","date":"2021-01-16","rate":466},{"age":"30-44","date":"2021-01-17","rate":452},{"age":"30-44","date":"2021-01-18","rate":440},{"age":"30-44","date":"2021-01-19","rate":427},{"age":"30-44","date":"2021-01-20","rate":404},{"age":"30-44","date":"2021-01-21","rate":384},{"age":"30-44","date":"2021-01-22","rate":363},{"age":"30-44","date":"2021-01-23","rate":350},{"age":"30-44","date":"2021-01-24","rate":333},{"age":"30-44","date":"2021-01-25","rate":314},{"age":"30-44","date":"2021-01-26","rate":295},{"age":"30-44","date":"2021-01-27","rate":286},{"age":"30-44","date":"2021-01-28","rate":275},{"age":"30-44","date":"2021-01-29","rate":270},{"age":"30-44","date":"2021-01-30","rate":263},{"age":"30-44","date":"2021-01-31","rate":259},{"age":"30-44","date":"2021-02-01","rate":241},{"age":"30-44","date":"2021-02-02","rate":230},{"age":"30-44","date":"2021-02-03","rate":217},
{"age":"16-29","date":"2021-01-11","rate":572},{"age":"16-29","date":"2021-01-12","rate":526},{"age":"16-29","date":"2021-01-13","rate":502},{"age":"16-29","date":"2021-01-14","rate":493},{"age":"16-29","date":"2021-01-15","rate":480},{"age":"16-29","date":"2021-01-16","rate":458},{"age":"16-29","date":"2021-01-17","rate":444},{"age":"16-29","date":"2021-01-18","rate":417},{"age":"16-29","date":"2021-01-19","rate":402},{"age":"16-29","date":"2021-01-20","rate":378},{"age":"16-29","date":"2021-01-21","rate":360},{"age":"16-29","date":"2021-01-22","rate":347},{"age":"16-29","date":"2021-01-23","rate":332},{"age":"16-29","date":"2021-01-24","rate":316},{"age":"16-29","date":"2021-01-25","rate":293},{"age":"16-29","date":"2021-01-26","rate":273},{"age":"16-29","date":"2021-01-27","rate":265},{"age":"16-29","date":"2021-01-28","rate":244},{"age":"16-29","date":"2021-01-29","rate":232},{"age":"16-29","date":"2021-01-30","rate":229},{"age":"16-29","date":"2021-01-31","rate":226},{"age":"16-29","date":"2021-02-01","rate":212},{"age":"16-29","date":"2021-02-02","rate":201},{"age":"16-29","date":"2021-02-03","rate":192},
{"age":"0-15","date":"2021-01-11","rate":143},{"age":"0-15","date":"2021-01-12","rate":140},{"age":"0-15","date":"2021-01-13","rate":136},{"age":"0-15","date":"2021-01-14","rate":136},{"age":"0-15","date":"2021-01-15","rate":137},{"age":"0-15","date":"2021-01-16","rate":133},{"age":"0-15","date":"2021-01-17","rate":130},{"age":"0-15","date":"2021-01-18","rate":125},{"age":"0-15","date":"2021-01-19","rate":125},{"age":"0-15","date":"2021-01-20","rate":126},{"age":"0-15","date":"2021-01-21","rate":121},{"age":"0-15","date":"2021-01-22","rate":116},{"age":"0-15","date":"2021-01-23","rate":111},{"age":"0-15","date":"2021-01-24","rate":107},{"age":"0-15","date":"2021-01-25","rate":104},{"age":"0-15","date":"2021-01-26","rate":96},{"age":"0-15","date":"2021-01-27","rate":90},{"age":"0-15","date":"2021-01-28","rate":85},{"age":"0-15","date":"2021-01-29","rate":81},{"age":"0-15","date":"2021-01-30","rate":81},{"age":"0-15","date":"2021-01-31","rate":82},{"age":"0-15","date":"2021-02-01","rate":75},{"age":"0-15","date":"2021-02-02","rate":72},{"age":"0-15","date":"2021-02-03","rate":68}],
"West Midlands":[{"age":"60+","date":"2021-01-11","rate":446},{"age":"60+","date":"2021-01-12","rate":449},{"age":"60+","date":"2021-01-13","rate":441},{"age":"60+","date":"2021-01-14","rate":439},{"age":"60+","date":"2021-01-15","rate":443},{"age":"60+","date":"2021-01-16","rate":434},{"age":"60+","date":"2021-01-17","rate":434},{"age":"60+","date":"2021-01-18","rate":430},{"age":"60+","date":"2021-01-19","rate":414},{"age":"60+","date":"2021-01-20","rate":409},{"age":"60+","date":"2021-01-21","rate":385},{"age":"60+","date":"2021-01-22","rate":374},{"age":"60+","date":"2021-01-23","rate":362},{"age":"60+","date":"2021-01-24","rate":337},{"age":"60+","date":"2021-01-25","rate":304},{"age":"60+","date":"2021-01-26","rate":285},{"age":"60+","date":"2021-01-27","rate":265},{"age":"60+","date":"2021-01-28","rate":256},{"age":"60+","date":"2021-01-29","rate":248},{"age":"60+","date":"2021-01-30","rate":239},{"age":"60+","date":"2021-01-31","rate":243},{"age":"60+","date":"2021-02-01","rate":240},{"age":"60+","date":"2021-02-02","rate":229},{"age":"60+","date":"2021-02-03","rate":218},
{"age":"45-59","date":"2021-01-11","rate":674},{"age":"45-59","date":"2021-01-12","rate":676},{"age":"45-59","date":"2021-01-13","rate":677},{"age":"45-59","date":"2021-01-14","rate":691},{"age":"45-59","date":"2021-01-15","rate":701},{"age":"45-59","date":"2021-01-16","rate":696},{"age":"45-59","date":"2021-01-17","rate":695},{"age":"45-59","date":"2021-01-18","rate":681},{"age":"45-59","date":"2021-01-19","rate":662},{"age":"45-59","date":"2021-01-20","rate":636},{"age":"45-59","date":"2021-01-21","rate":605},{"age":"45-59","date":"2021-01-22","rate":576},{"age":"45-59","date":"2021-01-23","rate":555},{"age":"45-59","date":"2021-01-24","rate":510},{"age":"45-59","date":"2021-01-25","rate":463},{"age":"45-59","date":"2021-01-26","rate":432},{"age":"45-59","date":"2021-01-27","rate":418},{"age":"45-59","date":"2021-01-28","rate":411},{"age":"45-59","date":"2021-01-29","rate":399},{"age":"45-59","date":"2021-01-30","rate":386},{"age":"45-59","date":"2021-01-31","rate":391},{"age":"45-59","date":"2021-02-01","rate":380},{"age":"45-59","date":"2021-02-02","rate":363},{"age":"45-59","date":"2021-02-03","rate":342},
{"age":"30-44","date":"2021-01-11","rate":802},{"age":"30-44","date":"2021-01-12","rate":789},{"age":"30-44","date":"2021-01-13","rate":789},{"age":"30-44","date":"2021-01-14","rate":802},{"age":"30-44","date":"2021-01-15","rate":812},{"age":"30-44","date":"2021-01-16","rate":804},{"age":"30-44","date":"2021-01-17","rate":798},{"age":"30-44","date":"2021-01-18","rate":785},{"age":"30-44","date":"2021-01-19","rate":779},{"age":"30-44","date":"2021-01-20","rate":757},{"age":"30-44","date":"2021-01-21","rate":722},{"age":"30-44","date":"2021-01-22","rate":694},{"age":"30-44","date":"2021-01-23","rate":671},{"age":"30-44","date":"2021-01-24","rate":617},{"age":"30-44","date":"2021-01-25","rate":575},{"age":"30-44","date":"2021-01-26","rate":545},{"age":"30-44","date":"2021-01-27","rate":515},{"age":"30-44","date":"2021-01-28","rate":506},{"age":"30-44","date":"2021-01-29","rate":483},{"age":"30-44","date":"2021-01-30","rate":470},{"age":"30-44","date":"2021-01-31","rate":483},{"age":"30-44","date":"2021-02-01","rate":465},{"age":"30-44","date":"2021-02-02","rate":437},{"age":"30-44","date":"2021-02-03","rate":417},
{"age":"16-29","date":"2021-01-11","rate":797},{"age":"16-29","date":"2021-01-12","rate":773},{"age":"16-29","date":"2021-01-13","rate":751},{"age":"16-29","date":"2021-01-14","rate":745},{"age":"16-29","date":"2021-01-15","rate":737},{"age":"16-29","date":"2021-01-16","rate":726},{"age":"16-29","date":"2021-01-17","rate":712},{"age":"16-29","date":"2021-01-18","rate":692},{"age":"16-29","date":"2021-01-19","rate":673},{"age":"16-29","date":"2021-01-20","rate":650},{"age":"16-29","date":"2021-01-21","rate":618},{"age":"16-29","date":"2021-01-22","rate":594},{"age":"16-29","date":"2021-01-23","rate":572},{"age":"16-29","date":"2021-01-24","rate":519},{"age":"16-29","date":"2021-01-25","rate":482},{"age":"16-29","date":"2021-01-26","rate":461},{"age":"16-29","date":"2021-01-27","rate":432},{"age":"16-29","date":"2021-01-28","rate":413},{"age":"16-29","date":"2021-01-29","rate":385},{"age":"16-29","date":"2021-01-30","rate":373},{"age":"16-29","date":"2021-01-31","rate":386},{"age":"16-29","date":"2021-02-01","rate":374},{"age":"16-29","date":"2021-02-02","rate":350},{"age":"16-29","date":"2021-02-03","rate":334},
{"age":"0-15","date":"2021-01-11","rate":236},{"age":"0-15","date":"2021-01-12","rate":231},{"age":"0-15","date":"2021-01-13","rate":229},{"age":"0-15","date":"2021-01-14","rate":231},{"age":"0-15","date":"2021-01-15","rate":239},{"age":"0-15","date":"2021-01-16","rate":240},{"age":"0-15","date":"2021-01-17","rate":242},{"age":"0-15","date":"2021-01-18","rate":242},{"age":"0-15","date":"2021-01-19","rate":243},{"age":"0-15","date":"2021-01-20","rate":238},{"age":"0-15","date":"2021-01-21","rate":229},{"age":"0-15","date":"2021-01-22","rate":220},{"age":"0-15","date":"2021-01-23","rate":211},{"age":"0-15","date":"2021-01-24","rate":192},{"age":"0-15","date":"2021-01-25","rate":177},{"age":"0-15","date":"2021-01-26","rate":171},{"age":"0-15","date":"2021-01-27","rate":162},{"age":"0-15","date":"2021-01-28","rate":159},{"age":"0-15","date":"2021-01-29","rate":154},{"age":"0-15","date":"2021-01-30","rate":154},{"age":"0-15","date":"2021-01-31","rate":162},{"age":"0-15","date":"2021-02-01","rate":158},{"age":"0-15","date":"2021-02-02","rate":148},{"age":"0-15","date":"2021-02-03","rate":146}],
"Yorkshire and Humber":[{"age":"60+","date":"2021-01-11","rate":232},{"age":"60+","date":"2021-01-12","rate":232},{"age":"60+","date":"2021-01-13","rate":222},{"age":"60+","date":"2021-01-14","rate":204},{"age":"60+","date":"2021-01-15","rate":201},{"age":"60+","date":"2021-01-16","rate":202},{"age":"60+","date":"2021-01-17","rate":201},{"age":"60+","date":"2021-01-18","rate":192},{"age":"60+","date":"2021-01-19","rate":188},{"age":"60+","date":"2021-01-20","rate":191},{"age":"60+","date":"2021-01-21","rate":196},{"age":"60+","date":"2021-01-22","rate":198},{"age":"60+","date":"2021-01-23","rate":191},{"age":"60+","date":"2021-01-24","rate":187},{"age":"60+","date":"2021-01-25","rate":183},{"age":"60+","date":"2021-01-26","rate":176},{"age":"60+","date":"2021-01-27","rate":169},{"age":"60+","date":"2021-01-28","rate":165},{"age":"60+","date":"2021-01-29","rate":162},{"age":"60+","date":"2021-01-30","rate":160},{"age":"60+","date":"2021-01-31","rate":158},{"age":"60+","date":"2021-02-01","rate":150},{"age":"60+","date":"2021-02-02","rate":138},{"age":"60+","date":"2021-02-03","rate":135},
{"age":"45-59","date":"2021-01-11","rate":349},{"age":"45-59","date":"2021-01-12","rate":346},{"age":"45-59","date":"2021-01-13","rate":341},{"age":"45-59","date":"2021-01-14","rate":318},{"age":"45-59","date":"2021-01-15","rate":322},{"age":"45-59","date":"2021-01-16","rate":323},{"age":"45-59","date":"2021-01-17","rate":321},{"age":"45-59","date":"2021-01-18","rate":311},{"age":"45-59","date":"2021-01-19","rate":307},{"age":"45-59","date":"2021-01-20","rate":306},{"age":"45-59","date":"2021-01-21","rate":316},{"age":"45-59","date":"2021-01-22","rate":306},{"age":"45-59","date":"2021-01-23","rate":297},{"age":"45-59","date":"2021-01-24","rate":285},{"age":"45-59","date":"2021-01-25","rate":274},{"age":"45-59","date":"2021-01-26","rate":261},{"age":"45-59","date":"2021-01-27","rate":254},{"age":"45-59","date":"2021-01-28","rate":248},{"age":"45-59","date":"2021-01-29","rate":242},{"age":"45-59","date":"2021-01-30","rate":241},{"age":"45-59","date":"2021-01-31","rate":243},{"age":"45-59","date":"2021-02-01","rate":236},{"age":"45-59","date":"2021-02-02","rate":219},{"age":"45-59","date":"2021-02-03","rate":216},
{"age":"30-44","date":"2021-01-11","rate":382},{"age":"30-44","date":"2021-01-12","rate":359},{"age":"30-44","date":"2021-01-13","rate":361},{"age":"30-44","date":"2021-01-14","rate":356},{"age":"30-44","date":"2021-01-15","rate":352},{"age":"30-44","date":"2021-01-16","rate":346},{"age":"30-44","date":"2021-01-17","rate":346},{"age":"30-44","date":"2021-01-18","rate":344},{"age":"30-44","date":"2021-01-19","rate":342},{"age":"30-44","date":"2021-01-20","rate":339},{"age":"30-44","date":"2021-01-21","rate":355},{"age":"30-44","date":"2021-01-22","rate":349},{"age":"30-44","date":"2021-01-23","rate":338},{"age":"30-44","date":"2021-01-24","rate":332},{"age":"30-44","date":"2021-01-25","rate":315},{"age":"30-44","date":"2021-01-26","rate":302},{"age":"30-44","date":"2021-01-27","rate":297},{"age":"30-44","date":"2021-01-28","rate":295},{"age":"30-44","date":"2021-01-29","rate":293},{"age":"30-44","date":"2021-01-30","rate":292},{"age":"30-44","date":"2021-01-31","rate":294},{"age":"30-44","date":"2021-02-01","rate":290},{"age":"30-44","date":"2021-02-02","rate":272},{"age":"30-44","date":"2021-02-03","rate":270},
{"age":"16-29","date":"2021-01-11","rate":430},{"age":"16-29","date":"2021-01-12","rate":411},{"age":"16-29","date":"2021-01-13","rate":401},{"age":"16-29","date":"2021-01-14","rate":381},{"age":"16-29","date":"2021-01-15","rate":351},{"age":"16-29","date":"2021-01-16","rate":335},{"age":"16-29","date":"2021-01-17","rate":331},{"age":"16-29","date":"2021-01-18","rate":322},{"age":"16-29","date":"2021-01-19","rate":310},{"age":"16-29","date":"2021-01-20","rate":301},{"age":"16-29","date":"2021-01-21","rate":320},{"age":"16-29","date":"2021-01-22","rate":311},{"age":"16-29","date":"2021-01-23","rate":304},{"age":"16-29","date":"2021-01-24","rate":297},{"age":"16-29","date":"2021-01-25","rate":282},{"age":"16-29","date":"2021-01-26","rate":271},{"age":"16-29","date":"2021-01-27","rate":263},{"age":"16-29","date":"2021-01-28","rate":254},{"age":"16-29","date":"2021-01-29","rate":248},{"age":"16-29","date":"2021-01-30","rate":244},{"age":"16-29","date":"2021-01-31","rate":242},{"age":"16-29","date":"2021-02-01","rate":235},{"age":"16-29","date":"2021-02-02","rate":220},{"age":"16-29","date":"2021-02-03","rate":219},
{"age":"0-15","date":"2021-01-11","rate":110},{"age":"0-15","date":"2021-01-12","rate":107},{"age":"0-15","date":"2021-01-13","rate":107},{"age":"0-15","date":"2021-01-14","rate":100},{"age":"0-15","date":"2021-01-15","rate":101},{"age":"0-15","date":"2021-01-16","rate":102},{"age":"0-15","date":"2021-01-17","rate":100},{"age":"0-15","date":"2021-01-18","rate":100},{"age":"0-15","date":"2021-01-19","rate":102},{"age":"0-15","date":"2021-01-20","rate":99},{"age":"0-15","date":"2021-01-21","rate":104},{"age":"0-15","date":"2021-01-22","rate":104},{"age":"0-15","date":"2021-01-23","rate":100},{"age":"0-15","date":"2021-01-24","rate":102},{"age":"0-15","date":"2021-01-25","rate":97},{"age":"0-15","date":"2021-01-26","rate":92},{"age":"0-15","date":"2021-01-27","rate":93},{"age":"0-15","date":"2021-01-28","rate":92},{"age":"0-15","date":"2021-01-29","rate":94},{"age":"0-15","date":"2021-01-30","rate":93},{"age":"0-15","date":"2021-01-31","rate":92},{"age":"0-15","date":"2021-02-01","rate":92},{"age":"0-15","date":"2021-02-02","rate":86},{"age":"0-15","date":"2021-02-03","rate":86}]},
"concat":[
{"width":543.75,"height":235.5,"title":{"text":"East Midlands","dx":38},"encoding":{"y":{"field":"age","type":"nominal","scale":{"domain":["60+","45-59","30-44","16-29","0-15"],"paddingInner":0,"paddingOuter":0.105},"axis":{"title":null}}},"layer":[{"data":{"name":"ages"},"mark":"rule"},{"data":{"name":"East Midlands"},"mark":"rect","encoding":{"x":{"field":"date","type":"temporal","timeUnit":"utcyearmonthdate","scale":{"type":"utc","domain":["2021-01-11","2021-02-05"]},"axis":null},"color":{"field":"rate","type":"quantitative","scale":{"scheme":"inferno","reverse":true,"domain":[0,800],"clamp":true},"legend":{"orient":"none","legendX":1675.5,"legendY":246,"title":["Confirmed cases","per 100,000","(7-day rolling rate)"],"titleFontSize":22.5,"titleFontWeight":"normal","titleColor":"#222","titlePadding":32,"titleLineHeight":25,"titleLimit":300,"gradientLength":226,"gradientThickness":34,"labelFontSize":21,"labelColor":"#222","labelOffset":12,"values":[0,200,400,600,800],"labelExpr":"datum.value==800?'800+':datum.label","encode":{"labels":{"update":{"baseline":{"value":"middle"}}}}}}}},{"data":{"name":"East Midlands"},"mark":"text","encoding":{"x":{"field":"date","type":"temporal","timeUnit":"utcyearmonthdate","bandPosition":0.5},"text":{"field":"rate"},"color":{"condition":{"test":"datum.rate>400","value":"#f2f2f2"},"value":"#222"}}}]},
{"width":543.75,"height":235.5,"title":{"text":"East of England","dx":36},"encoding":{"y":{"field":"age","type":"nominal","scale":{"domain":["60+","45-59","30-44","16-29","0-15"],"paddingInner":0,"paddingOuter":0.105},"axis":null}},"layer":[{"data":{"name":"ages"},"mark":"rule"},{"data":{"name":"East of England"},"mark":"rect","encoding":{"x":{"field":"date","type":"temporal","timeUnit":"utcyearmonthdate","scale":{"type":"utc","domain":["2021-01-11","2021-02-05"]},"axis":null},"color":{"field":"rate","type":"quantitative","scale":{"scheme":"inferno","reverse":true,"domain":[0,800],"clamp":true}}}},{"data":{"name":"East of England"},"mark":"text","encoding":{"x":{"field":"date","type":"temporal","timeUnit":"utcyearmonthdate","bandPosition":0.5},"text":{"field":"rate"},"color":{"condition":{"test":"datum.rate>400","value":"#f2f2f2"},"value":"#222"}}}]},
{"width":543.75,"height":235.5,"title":{"text":"London","dx":45},"encoding":{"y":{"field":"age","type":"nominal","scale":{"domain":["60+","45-59","30-44","16-29","0-15"],"paddingInner":0,"paddingOuter":0.105},"axis":null}},"layer":[{"data":{"name":"ages"},"mark":"rule"},{"data":{"name":"London"},"mark":"rect","encoding":{"x":{"field":"date","type":"temporal","timeUnit":"utcyearmonthdate","scale":{"type":"utc","domain":["2021-01-11","2021-02-05"]},"axis":null},"color":{"field":"rate","type":"quantitative","scale":{"scheme":"inferno","reverse":true,"domain":[0,800],"clamp":true}}}},{"data":{"name":"London"},"mark":"text","encoding":{"x":{"field":"date","type":"temporal","timeUnit":"utcyearmonthdate","bandPosition":0.5},"text":{"field":"rate"},"color":{"condition":{"test":"datum.rate>400","value":"#f2f2f2"},"value":"#222"}}}]},
{"width":543.75,"height":235.5,"title":{"text":"North East","dx":42},"encoding":{"y":{"field":"age","type":"nominal","scale":{"domain":["60+","45-59","30-44","16-29","0-15"],"paddingInner":0,"paddingOuter":0.105},"axis":{"title":"Age group"}}},"layer":[{"data":{"name":"ages"},"mark":"rule"},{"data":{"name":"North East"},"mark":"rect","encoding":{"x":{"field":"date","type":"temporal","timeUnit":"utcyearmonthdate","scale":{"type":"utc","domain":["2021-01-11","2021-02-05"]},"axis":null},"color":{"field":"rate","type":"quantitative","scale":{"scheme":"inferno","reverse":true,"domain":[0,800],"clamp":true}}}},{"data":{"name":"North East"},"mark":"text","encoding":{"x":{"field":"date","type":"temporal","timeUnit":"utcyearmonthdate","bandPosition":0.5},"text":{"field":"rate"},"color":{"condition":{"test":"datum.rate>400","value":"#f2f2f2"},"value":"#222"}}}]},
{"width":543.75,"height":235.5,"title":{"text":"North West","dx":42},"encoding":{"y":{"field":"age","type":"nominal","scale":{"domain":["60+","45-59","30-44","16-29","0-15"],"paddingInner":0,"paddingOuter":0.105},"axis":null}},"layer":[{"data":{"name":"ages"},"mark":"rule"},{"data":{"name":"North West"},"mark":"rect","encoding":{"x":{"field":"date","type":"temporal","timeUnit":"utcyearmonthdate","scale":{"type":"utc","domain":["2021-01-11","2021-02-05"]},"axis":null},"color":{"field":"rate","type":"quantitative","scale":{"scheme":"inferno","reverse":true,"domain":[0,800],"clamp":true}}}},{"data":{"name":"North West"},"mark":"text","encoding":{"x":{"field":"date","type":"temporal","timeUnit":"utcyearmonthdate","bandPosition":0.5},"text":{"field":"rate"},"color":{"condition":{"test":"datum.rate>400","value":"#f2f2f2"},"value":"#222"}}}]},
{"width":543.75,"height":235.5,"title":{"text":"South East","dx":41},"encoding":{"y":{"field":"age","type":"nominal","scale":{"domain":["60+","45-59","30-44","16-29","0-15"],"paddingInner":0,"paddingOuter":0.105},"axis":null}},"layer":[{"data":{"name":"ages"},"mark":"rule"},{"data":{"name":"South East"},"mark":"rect","encoding":{"x":{"field":"date","type":"temporal","timeUnit":"utcyearmonthdate","scale":{"type":"utc","domain":["2021-01-11","2021-02-05"]},"axis":null},"color":{"field":"rate","type":"quantitative","scale":{"scheme":"inferno","reverse":true,"domain":[0,800],"clamp":true}}}},{"data":{"name":"South East"},"mark":"text","encoding":{"x":{"field":"date","type":"temporal","timeUnit":"utcyearmonthdate","bandPosition":0.5},"text":{"field":"rate"},"color":{"condition":{"test":"datum.rate>400","value":"#f2f2f2"},"value":"#222"}}}]},
{"width":543.75,"height":235.5,"title":{"text":"South West","dx":41},"encoding":{"y":{"field":"age","type":"nominal","scale":{"domain":["60+","45-59","30-44","16-29","0-15"],"paddingInner":0,"paddingOuter":0.105},"axis":{"title":null}}},"layer":[{"data":{"name":"ages"},"mark":"rule"},{"data":{"name":"South West"},"mark":"rect","encoding":{"x":{"field":"date","type":"temporal","timeUnit":"utcyearmonthdate","scale":{"type":"utc","domain":["2021-01-11","2021-02-05"]},"axis":{"values":["2021-01-14T12:00:00Z","2021-01-21T12:00:00Z","2021-01-28T12:00:00Z","2021-02-04T12:00:00Z"],"format":"%b-%d","title":null}},"color":{"field":"rate","type":"quantitative","scale":{"scheme":"inferno","reverse":true,"domain":[0,800],"clamp":true}}}},{"data":{"name":"South West"},"mark":"text","encoding":{"x":{"field":"date","type":"temporal","timeUnit":"utcyearmonthdate","bandPosition":0.5},"text":{"field":"rate"},"color":{"condition":{"test":"datum.rate>400","value":"#f2f2f2"},"value":"#222"}}}]},
{"width":543.75,"height":235.5,"title":{"text":"West Midlands","dx":36},"encoding":{"y":{"field":"age","type":"nominal","scale":{"domain":["60+","45-59","30-44","16-29","0-15"],"paddingInner":0,"paddingOuter":0.105},"axis":null}},"layer":[{"data":{"name":"ages"},"mark":"rule"},{"data":{"name":"West Midlands"},"mark":"rect","encoding":{"x":{"field":"date","type":"temporal","timeUnit":"utcyearmonthdate","scale":{"type":"utc","domain":["2021-01-11","2021-02-05"]},"axis":{"values":["2021-01-14T12:00:00Z","2021-01-21T12:00:00Z","2021-01-28T12:00:00Z","2021-02-04T12:00:00Z"],"format":"%b-%d","title":"Date"}},"color":{"field":"rate","type":"quantitative","scale":{"scheme":"inferno","reverse":true,"domain":[0,800],"clamp":true}}}},{"data":{"name":"West Midlands"},"mark":"text","encoding":{"x":{"field":"date","type":"temporal","timeUnit":"utcyearmonthdate","bandPosition":0.5},"text":{"field":"rate"},"color":{"condition":{"test":"datum.rate>400","value":"#f2f2f2"},"value":"#222"}}}]},
{"width":543.75,"height":235.5,"title":{"text":"Yorkshire and Humber","dx":28},"encoding":{"y":{"field":"age","type":"nominal","scale":{"domain":["60+","45-59","30-44","16-29","0-15"],"paddingInner":0,"paddingOuter":0.105},"axis":null}},"layer":[{"data":{"name":"ages"},"mark":"rule"},{"data":{"name":"Yorkshire and Humber"},"mark":"rect","encoding":{"x":{"field":"date","type":"temporal","timeUnit":"utcyearmonthdate","scale":{"type":"utc","domain":["2021-01-11","2021-02-05"]},"axis":{"values":["2021-01-14T12:00:00Z","2021-01-21T12:00:00Z","2021-01-28T12:00:00Z","2021-02-04T12:00:00Z"],"format":"%b-%d","title":null}},"color":{"field":"rate","type":"quantitative","scale":{"scheme":"inferno","reverse":true,"domain":[0,800],"clamp":true}}}},{"data":{"name":"Yorkshire and Humber"},"mark":"text","encoding":{"x":{"field":"date","type":"temporal","timeUnit":"utcyearmonthdate","bandPosition":0.5},"text":{"field":"rate"},"color":{"condition":{"test":"datum.rate>400","value":"#f2f2f2"},"value":"#222"}}}]}
]}
